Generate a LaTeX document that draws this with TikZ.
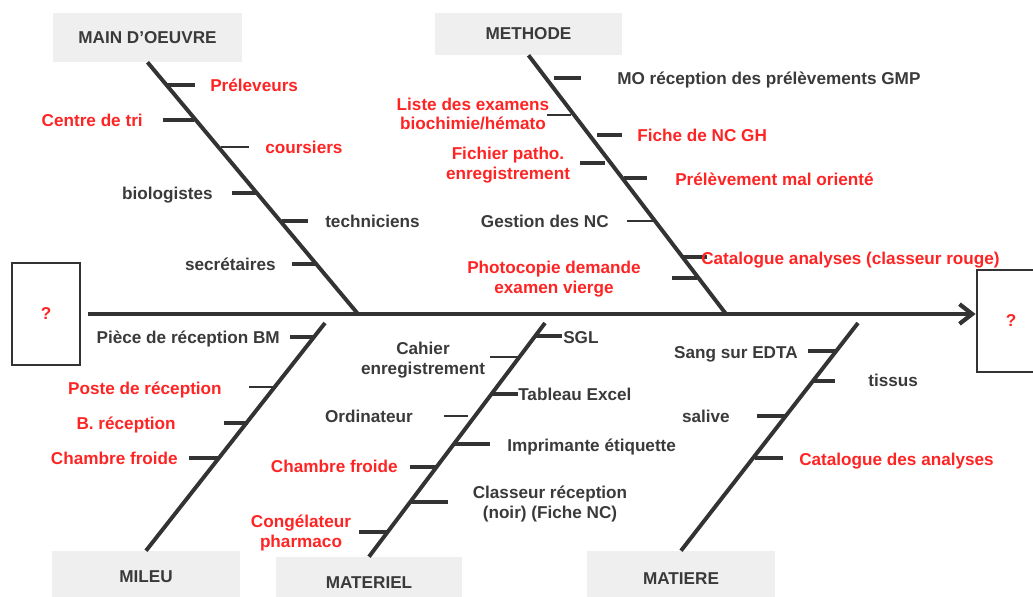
\documentclass[tikz,border=0pt]{standalone}
\usepackage{fontspec}
\setmainfont{Liberation Sans}
\usetikzlibrary{arrows.meta,fit}
\definecolor{trait}{HTML}{333333}
\definecolor{texte}{HTML}{3A3A3A}
\definecolor{rougeC}{HTML}{FF2424}
\definecolor{fond}{HTML}{EFEFEF}
\newcommand{\police}{\fontsize{12.2}{14}\selectfont\bfseries}

\begin{document}
\begin{tikzpicture}[x=0.025cm, y=-0.025cm,
		arete/.style={draw=trait, line width=3pt, -{Straight Barb[length=9pt,width=14pt]}},
		os/.style={draw=trait, line width=2.8pt},
		tfort/.style={draw=trait, line width=3.5pt},
		tmoyen/.style={draw=trait, line width=2.5pt},
		tfin/.style={draw=trait, line width=1.8pt},
		titre/.style={fill=fond, inner sep=0pt},
		titreT/.style={inner sep=0pt, font=\police, text=texte},
		effet/.style={draw=trait, line width=2pt, fill=white, inner sep=0pt},
		effetT/.style={inner sep=0pt, font=\police, text=rougeC},
		noir/.style={inner sep=0pt, font=\police, text=texte, text height=10pt, text depth=1pt},
		rouge/.style={noir, text=rougeC},
		bloc/.style={inner sep=0pt, font=\police, text=texte, align=center},
		blocR/.style={bloc, text=rougeC}]
	\useasboundingbox (0,0) rectangle (1033,597);
	
	% Arete centrale
	\node[effet, fit={(12,263) (80,365)}, label={[effetT]center:?}] (cause-g) {};
	\node[effet, fit={(977,270) (1045,372)}, label={[effetT]center:?}] (cause-d) {};
	\coordinate (depart) at (88,314);
	\draw[arete] (depart) -- (cause-d.west |- depart);
	
	% Main d'oeuvre
	\node[titre, fit={(53,13) (242,62)}, label={[titreT]center:MAIN D’OEUVRE}] (mo) {};
	\coordinate (mo-pied) at (358,314);
	\draw[os] (mo.south) -- (mo-pied);
	\draw[tfort] (167,85) -- (195,85);
	\node[rouge, anchor=west] (preleveurs) at (210,85) {Préleveurs};
	\draw[tfort] (163,120) -- (194,120);
	\node[rouge, anchor=east] (tri) at (143,120) {Centre de tri};
	\draw[tfin] (221,147) -- (249,147);
	\node[rouge, anchor=west] (coursiers) at (265,147) {coursiers};
	\draw[tmoyen] (232,193) -- (257,193);
	\node[noir, anchor=east] (biologistes) at (213,193) {biologistes};
	\draw[tfort] (282,221) -- (308,221);
	\node[noir, anchor=west] (techniciens) at (325,221) {techniciens};
	\draw[tmoyen] (292,264) -- (317,264);
	\node[noir, anchor=east] (secretaires) at (276,264) {secrétaires};
	
	% Methode
	\node[titre, fit={(435,13) (622,55)}, label={[titreT]center:METHODE}] (meth) {};
	\coordinate (meth-pied) at (726,314);
	\draw[os] (meth.south) -- (meth-pied);
	\draw[tmoyen] (554,78) -- (581,78);
	\node[noir, anchor=west] (mo-recep) at (617,78) {MO réception des prélèvements GMP};
	\draw[tfin] (547,115) -- (571,115);
	\node[blocR] (liste) at (473,114) {Liste des examens\\biochimie/hémato};
	\draw[tfort] (597,135) -- (622,135);
	\node[rouge, anchor=west] (fiche-gh) at (637,135) {Fiche de NC GH};
	\draw[tmoyen] (580,163) -- (605,163);
	\node[blocR] (fichier) at (508,165) {Fichier patho.\\enregistrement};
	\draw[tfort] (624,178) -- (647,178);
	\node[rouge, anchor=west] (mal-oriente) at (675,179) {Prélèvement mal orienté};
	\draw[tfin] (627,221) -- (653,221);
	\node[noir, anchor=east] (gestion) at (609,221) {Gestion des NC};
	\draw[tfort] (682,257) -- (707,257);
	\node[rouge, anchor=west] (classeur-rouge) at (701,258) {Catalogue analyses (classeur rouge)};
	\draw[tfort] (672,278) -- (697,278);
	\node[blocR] (photocopie) at (554,279) {Photocopie demande\\examen vierge};
	
	% Mileu
	\node[titre, fit={(52,551) (240,603)}, label={[titreT]center:MILEU}] (mil) {};
	\coordinate (mil-tete) at (325,323);
	\draw[os] (mil.north) -- (mil-tete);
	\draw[tmoyen] (290,337) -- (315,337);
	\node[noir, anchor=east] (piece) at (280,337) {Pièce de réception BM};
	\draw[tfin] (249,387) -- (276,387);
	\node[rouge, anchor=east] (poste) at (222,388) {Poste de réception};
	\draw[tmoyen] (224,423) -- (248,423);
	\node[rouge, anchor=east] (b-recep) at (176,423) {B. réception};
	\draw[tfort] (189,458) -- (219,458);
	\node[rouge, anchor=east] (chambre1) at (178,458) {Chambre froide};
	
	% Materiel
	\node[titre, fit={(276,557) (462,609)}, label={[titreT]center:MATERIEL}] (mat) {};
	\coordinate (mat-tete) at (545,323);
	\draw[os] (mat.north) -- (mat-tete);
	\draw[tmoyen] (535,336) -- (562,336);
	\node[noir, anchor=west] (sgl) at (563,337) {SGL};
	\draw[tfin] (490,357) -- (519,357);
	\node[bloc] (cahier) at (423,360) {Cahier\\enregistrement};
	\draw[tmoyen] (492,394) -- (518,394);
	\node[noir, anchor=west] (excel) at (518,394) {Tableau Excel};
	\draw[tfin] (444,416) -- (468,416);
	\node[noir, anchor=east] (ordinateur) at (413,416) {Ordinateur};
	\draw[tmoyen] (454,444) -- (490,444);
	\node[noir, anchor=west] (imprimante) at (507,445) {Imprimante étiquette};
	\draw[tmoyen] (410,467) -- (437,467);
	\node[rouge, anchor=east] (chambre2) at (398,466) {Chambre froide};
	\draw[tfort] (410,502) -- (448,502);
	\node[bloc] (classeur) at (550,504) {Classeur réception\\(noir) (Fiche NC)};
	\draw[tmoyen] (359,532) -- (388,532);
	\node[blocR] (congelateur) at (301,533) {Congélateur\\pharmaco};
	
	% Matiere
	\node[titre, fit={(587,551) (775,607)}, label={[titreT]center:MATIERE}] (matiere) {};
	\coordinate (matiere-tete) at (858,323);
	\draw[os] (matiere.north) -- (matiere-tete);
	\draw[tmoyen] (808,351) -- (836,351);
	\node[noir, anchor=east] (sang) at (798,352) {Sang sur EDTA};
	\draw[tmoyen] (813,381) -- (835,381);
	\node[noir, anchor=west] (tissus) at (868,380) {tissus};
	\draw[tmoyen] (757,416) -- (786,416);
	\node[noir, anchor=east] (salive) at (730,416) {salive};
	\draw[tfort] (755,458) -- (783,458);
	\node[rouge, anchor=west] (catalogue) at (799,459) {Catalogue des analyses};
\end{tikzpicture}
\end{document}
